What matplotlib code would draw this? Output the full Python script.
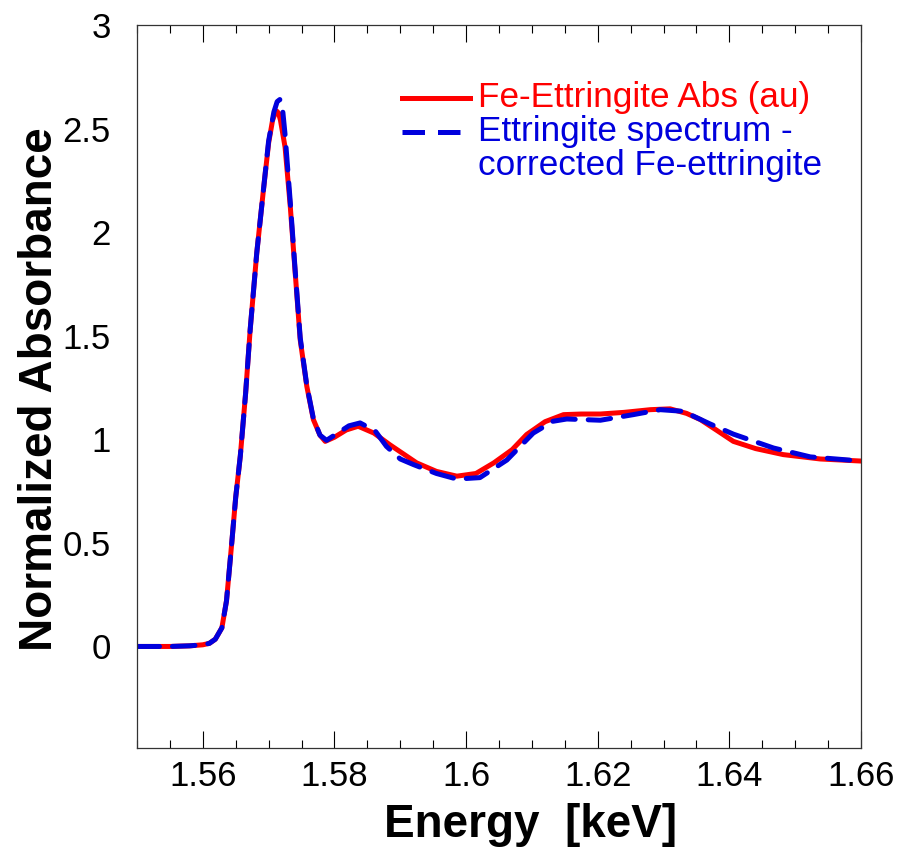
import numpy as np
import matplotlib
matplotlib.use("Agg")
import matplotlib.pyplot as plt
from matplotlib.ticker import MultipleLocator, FormatStrFormatter

plt.rcParams['font.family'] = ['Liberation Sans', 'DejaVu Sans']

# Fe-Ettringite absorbance (red, solid)
e_red = [1.550, 1.555, 1.558, 1.560, 1.561, 1.5619, 1.5629, 1.5636, 1.5644, 1.5650,
         1.5657, 1.5665, 1.5672, 1.5682, 1.5692, 1.5700, 1.5706, 1.5710, 1.5712, 1.5715,
         1.5718, 1.5725, 1.5733, 1.5740, 1.5748, 1.5758, 1.5768, 1.5778, 1.5786, 1.5800,
         1.5818, 1.5836, 1.5860, 1.5884, 1.5925, 1.5955, 1.5986, 1.6015, 1.6042, 1.6070,
         1.6092, 1.6120, 1.6148, 1.6175, 1.6204, 1.6240, 1.6280, 1.6310, 1.6335, 1.6356,
         1.6380, 1.6406, 1.6440, 1.6482, 1.6538, 1.6600]
a_red = [0.0, 0.0, 0.003, 0.008, 0.015, 0.035, 0.09, 0.22, 0.50, 0.72,
         0.92, 1.22, 1.53, 1.90, 2.20, 2.43, 2.54, 2.575, 2.585, 2.575,
         2.54, 2.41, 2.12, 1.82, 1.48, 1.256, 1.095, 1.02, 0.99, 1.01,
         1.045, 1.063, 1.03, 0.974, 0.886, 0.845, 0.822, 0.835, 0.886, 0.95,
         1.023, 1.085, 1.119, 1.122, 1.122, 1.13, 1.143, 1.147, 1.125, 1.095,
         1.045, 0.990, 0.955, 0.926, 0.905, 0.895]

# Ettringite spectrum - corrected Fe-ettringite (blue, dashed)
e_blue = [1.550, 1.555, 1.558, 1.560, 1.561, 1.5619, 1.5629, 1.5636, 1.5644, 1.5650,
          1.5657, 1.5665, 1.5672, 1.5682, 1.5692, 1.5700, 1.5708, 1.5713, 1.5717, 1.5721,
          1.5725, 1.5733, 1.5740, 1.5748, 1.5758, 1.5768, 1.5778, 1.5788, 1.5805, 1.5822,
          1.5839, 1.5862, 1.5879, 1.5900, 1.5920, 1.5955, 1.5986, 1.6021, 1.6062, 1.6102,
          1.6132, 1.6153, 1.6204, 1.6254, 1.6295, 1.6330, 1.6370, 1.6406, 1.6467, 1.6523,
          1.6600]
a_blue = [0.0, 0.0, 0.003, 0.008, 0.015, 0.035, 0.09, 0.22, 0.50, 0.72,
          0.92, 1.22, 1.53, 1.90, 2.20, 2.44, 2.58, 2.63, 2.64, 2.60,
          2.47, 2.14, 1.83, 1.49, 1.26, 1.10, 1.02, 0.995, 1.03, 1.065,
          1.079, 1.04, 0.966, 0.905, 0.878, 0.835, 0.808, 0.815, 0.90, 1.03,
          1.087, 1.098, 1.092, 1.119, 1.143, 1.135, 1.075, 1.025, 0.958, 0.915,
          0.895]

red_label = "Fe-Ettringite Abs (au)"
blue_label = ["Ettringite spectrum -", "corrected Fe-ettringite"]

fig = plt.figure(figsize=(8.97, 8.52), dpi=100)
ax = fig.add_axes([0.1527, 0.1221, 0.8072, 0.8486])

ax.plot(e_red, a_red, color='#ff0000', lw=3.6, solid_capstyle='round',
        solid_joinstyle='round')
ax.plot(e_blue, a_blue, color='#0000dd', lw=3.6, ls=(0, (4.5, 2.6)),
        dash_capstyle='round', dash_joinstyle='round')

ax.set_xlim(1.55, 1.66)
ax.set_ylim(-0.49, 3)

ax.xaxis.set_major_locator(MultipleLocator(0.02))
ax.xaxis.set_minor_locator(MultipleLocator(0.005))
ax.xaxis.set_major_formatter(FormatStrFormatter('%g'))
ax.yaxis.set_major_formatter(FormatStrFormatter('%g'))

ax.tick_params(axis='x', which='both', direction='in', top=True, bottom=True,
               labelsize=25, pad=9)
ax.tick_params(axis='x', which='major', length=12, width=0.8)
ax.tick_params(axis='x', which='minor', length=6, width=0.8)
ax.tick_params(axis='y', which='both', length=0, labelsize=25, pad=19)
ax.set_yticks([0, 0.5, 1, 1.5, 2, 2.5, 3])

for s in ax.spines.values():
    s.set_linewidth(0.9)
    s.set_color('#333333')

ax.set_xlabel("Energy  [keV]", fontsize=33, fontweight='bold')
ax.xaxis.set_label_coords(0.543, -0.076)
ax.set_ylabel("Normalized Absorbance", fontsize=33, fontweight='bold')
ax.yaxis.set_label_coords(-0.104, 0.497)

# legend drawn by hand so text takes the line colour
ax.plot([0.366, 0.46], [0.899, 0.899], color='#ff0000', lw=3.6, transform=ax.transAxes)
ax.plot([0.366, 0.46], [0.852, 0.852], color='#0000dd', lw=3.6,
        ls=(0, (4.5, 2.6)), transform=ax.transAxes)
ax.text(0.471, 0.899, red_label, color='#ff0000', fontsize=25.3,
        va='center', ha='left', transform=ax.transAxes)
ax.text(0.471, 0.852, blue_label[0], color='#0000dd', fontsize=25.3,
        va='center', ha='left', transform=ax.transAxes)
ax.text(0.471, 0.806, blue_label[1], color='#0000dd', fontsize=25.3,
        va='center', ha='left', transform=ax.transAxes)

fig.savefig("out.png", dpi=100)
